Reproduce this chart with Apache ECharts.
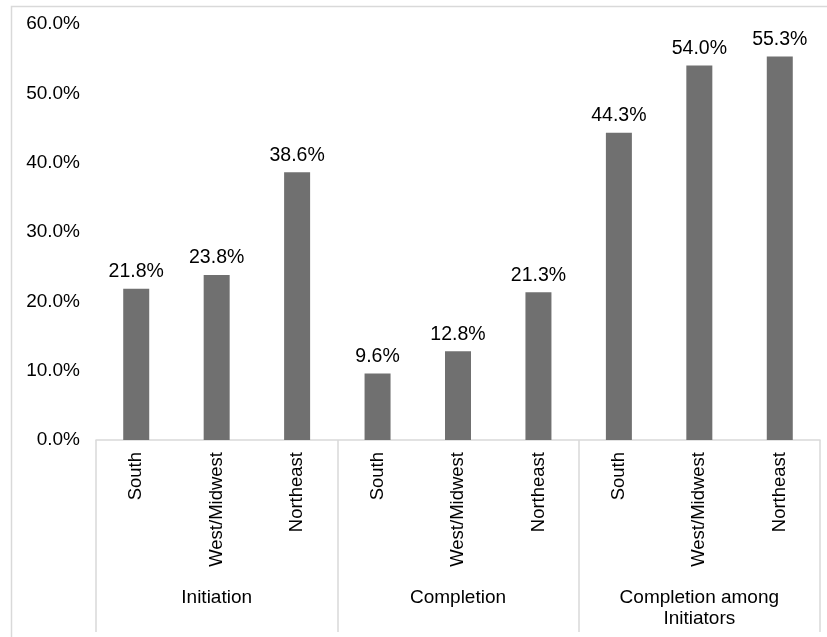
<!DOCTYPE html>
<html>
<head>
<meta charset="utf-8">
<title>Initiation and completion by region</title>
<script src="https://cdn.jsdelivr.net/npm/echarts@6/dist/echarts.min.js"></script>
<style>
  html, body { margin: 0; padding: 0; background: #fff; }
  #chart { width: 827px; height: 637px; }
</style>
</head>
<body>
<div id="chart"></div>
<script>
// data
var groups = ['Initiation', 'Completion', 'Completion among\nInitiators'];
var regions = ['South', 'West/Midwest', 'Northeast'];
var initiation = [21.8, 23.8, 38.6];
var completion = [9.6, 12.8, 21.3];
var completionAmongInitiators = [44.3, 54.0, 55.3];
var yTicks = [0, 10, 20, 30, 40, 50, 60];

(function () {
    var el = document.getElementById('chart');
    var chart = echarts.init(el);
    var font = 'Liberation Sans, Arial, sans-serif';

    // 9 flat categories, one per bar
    var cats = [];
    var values = [];
    [initiation, completion, completionAmongInitiators].forEach(function (arr) {
        regions.forEach(function (r, i) {
            cats.push(r);
            values.push(arr[i]);
        });
    });

    var option = {
        backgroundColor: '#fff',
        animation: false,
        graphic: [{
            type: 'rect',
            shape: { x: 11.5, y: 6.5, width: 830, height: 640 },
            style: { fill: 'none', stroke: '#d9d9d9', lineWidth: 1.5 },
            silent: true
        }],
        grid: { left: 96, right: 7, top: 24, bottom: 197 },
        xAxis: [{
            type: 'category',
            data: cats,
            position: 'bottom',
            offset: 0,
            axisLine: { show: true, lineStyle: { color: '#d9d9d9', width: 1.5 } },
            axisTick: { show: false },
            axisLabel: {
                interval: 0,
                rotate: 90,
                margin: 12,
                color: '#000',
                fontFamily: font,
                fontSize: 18.5
            }
        }, {
            type: 'category',
            data: groups,
            position: 'bottom',
            offset: 0,
            axisLine: { show: false },
            axisTick: { show: true, length: 192, lineStyle: { color: '#d9d9d9', width: 1.5 } },
            axisLabel: {
                interval: 0,
                margin: 147,
                color: '#000',
                fontFamily: font,
                fontSize: 19,
                lineHeight: 21,
                verticalAlign: 'top'
            }
        }],
        yAxis: {
            type: 'value',
            min: yTicks[0],
            max: yTicks[yTicks.length - 1],
            interval: 10,
            axisLine: { show: false },
            axisTick: { show: false },
            splitLine: { show: false },
            axisLabel: {
                margin: 16,
                color: '#000',
                fontFamily: font,
                fontSize: 19,
                formatter: function (v) { return v.toFixed(1) + '%'; }
            }
        },
        series: [{
            type: 'bar',
            xAxisIndex: 0,
            data: values,
            barWidth: 26,
            itemStyle: { color: '#707070' },
            label: {
                show: true,
                position: 'top',
                distance: 7,
                color: '#000',
                fontFamily: font,
                fontSize: 19.5,
                formatter: function (p) { return p.value.toFixed(1) + '%'; }
            }
        }]
    };

    chart.setOption(option);
    window.addEventListener('resize', function () { chart.resize(); });
})();
</script>
</body>
</html>
